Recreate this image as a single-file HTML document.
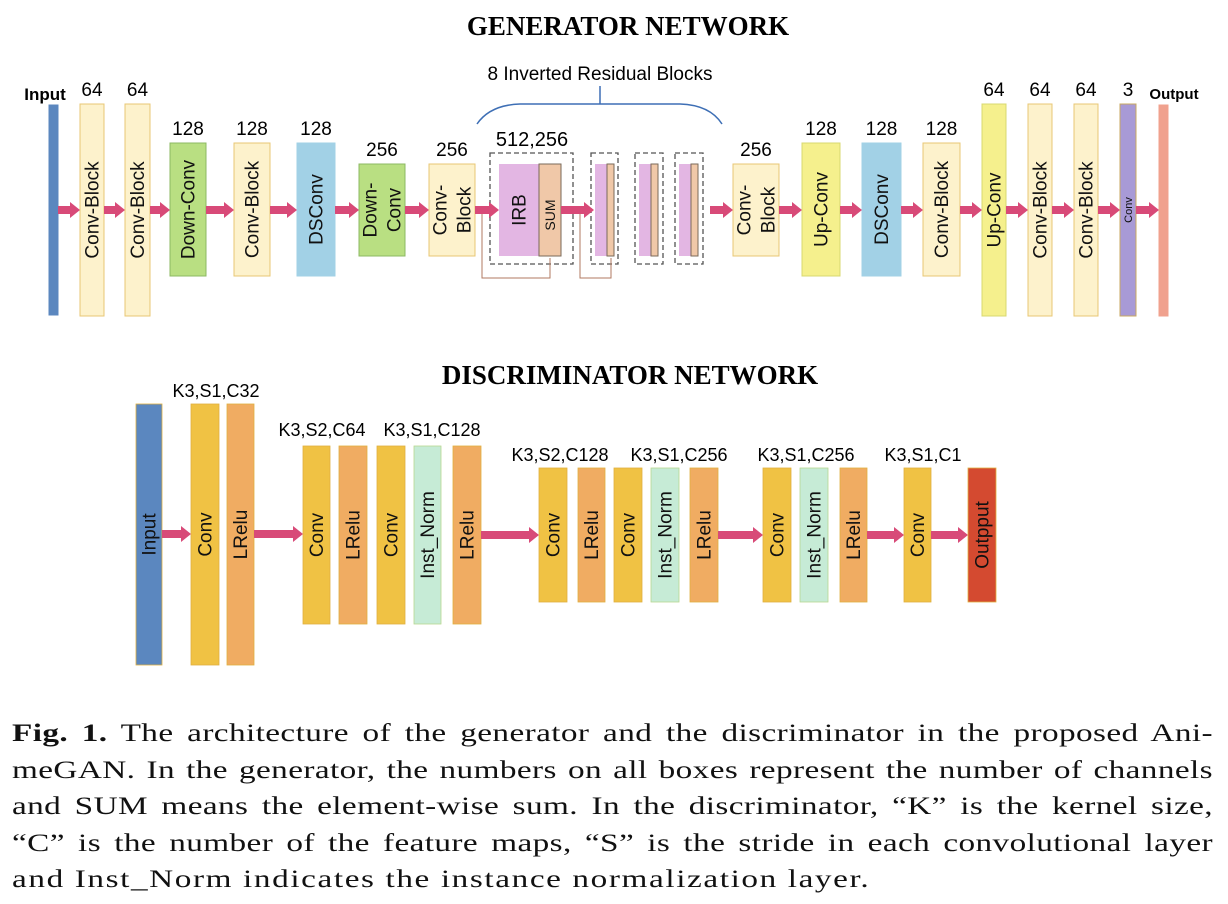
<!DOCTYPE html>
<html><head><meta charset="utf-8">
<style>
html,body{margin:0;padding:0;background:#fff;width:1228px;height:904px;overflow:hidden}
svg{position:absolute;left:0;top:0}
.cap{position:absolute;left:12px;width:903px;transform:scaleX(1.33);transform-origin:0 0;font-family:"Liberation Serif",serif;font-size:25px;letter-spacing:0.3px;color:#111;text-align:justify;text-align-last:justify;white-space:nowrap;line-height:30px}
.last{text-align-last:left;letter-spacing:1.2px}
</style></head>
<body>
<svg id="fig" width="1228" height="720" viewBox="0 0 1228 720" font-family="Liberation Sans, sans-serif">
<text x="628" y="35" text-anchor="middle" font-family="Liberation Serif, serif" font-weight="bold" font-size="27">GENERATOR NETWORK</text>
<text x="630" y="384" text-anchor="middle" font-family="Liberation Serif, serif" font-weight="bold" font-size="27">DISCRIMINATOR NETWORK</text>
<text x="45" y="100" text-anchor="middle" font-weight="bold" font-size="17">Input</text>
<text x="1174" y="99" text-anchor="middle" font-weight="bold" font-size="15">Output</text>
<text x="600" y="80" text-anchor="middle" font-size="19">8 Inverted Residual Blocks</text>
<path d="M477,124 Q490,105 520,104 L680,104 Q710,105 722,124 M600,104 L600,86" fill="none" stroke="#3e6fb5" stroke-width="1.5"/>
<text x="532" y="146" text-anchor="middle" font-size="20">512,256</text>
<g id="g"></g>
</svg>
<div class="cap" style="top:719px"><b>Fig. 1.</b> The architecture of the generator and the discriminator in the proposed Ani-</div>
<div class="cap" style="top:756px">meGAN. In the generator, the numbers on all boxes represent the number of channels</div>
<div class="cap" style="top:792px">and SUM means the element-wise sum. In the discriminator, “K” is the kernel size,</div>
<div class="cap" style="top:829px">“C” is the number of the feature maps, “S” is the stride in each convolutional layer</div>
<div class="cap last" style="top:865px">and Inst_Norm indicates the instance normalization layer.</div>
<script>
const NS="http://www.w3.org/2000/svg";
const g=document.getElementById('g');
function mk(tag,attrs){const e=document.createElementNS(NS,tag);for(const k in attrs)e.setAttribute(k,attrs[k]);g.appendChild(e);return e;}
const genBoxes=[
[49,58,105,315,"#5b87bf","#5b87bf","",""],
[80,104,104,316,"#fdf2cc","#e8c774","Conv-Block","64"],
[125,150,104,316,"#fdf2cc","#e8c774","Conv-Block","64"],
[170,206,143,276,"#b9df82","#8cb863","Down-Conv","128"],
[234,270,143,276,"#fdf2cc","#e8c774","Conv-Block","128"],
[297,335,143,276,"#a2d1e6","#a2d1e6","DSConv","128"],
[359,405,164,256,"#b9df82","#8cb863","Down-|Conv","256"],
[429,475,164,256,"#fdf2cc","#e8c774","Conv-|Block","256"],
[733,779,164,256,"#fdf2cc","#e8c774","Conv-|Block","256"],
[802,840,143,276,"#f5f08d","#d8d870","Up-Conv","128"],
[862,901,143,276,"#a2d1e6","#a2d1e6","DSConv","128"],
[923,960,143,276,"#fdf2cc","#e8c774","Conv-Block","128"],
[982,1006,104,316,"#f5f08d","#d8d870","Up-Conv","64"],
[1028,1052,104,316,"#fdf2cc","#e8c774","Conv-Block","64"],
[1074,1098,104,316,"#fdf2cc","#e8c774","Conv-Block","64"],
[1120,1136,104,316,"#a89ad6","#c8a860","Conv","3"],
[1159,1168,105,316,"#f0a18e","#f0a18e","",""]
];
const genArrows=[[58,80],[104,125],[150,170],[206,234],[270,297],[335,359],[405,429],[475,499],[561,594],[710,733],[779,802],[840,862],[901,923],[960,982],[1006,1028],[1052,1074],[1098,1120],[1136,1159]];
const discBoxes=[
[136,162,404,665,"#5b87bf","Input",""],
[191,219,404,665,"#f0c244","Conv","K3,S1,C32"],
[227,254,404,665,"#f0ac62","LRelu",""],
[303,330,446,624,"#f0c244","Conv","K3,S2,C64"],
[339,367,446,624,"#f0ac62","LRelu",""],
[377,405,446,624,"#f0c244","Conv",""],
[414,441,446,624,"#c6ebd6","Inst_Norm",""],
[453,481,446,624,"#f0ac62","LRelu",""],
[539,567,468,602,"#f0c244","Conv",""],
[578,605,468,602,"#f0ac62","LRelu",""],
[614,642,468,602,"#f0c244","Conv",""],
[651,679,468,602,"#c6ebd6","Inst_Norm",""],
[690,718,468,602,"#f0ac62","LRelu",""],
[763,791,468,602,"#f0c244","Conv",""],
[800,828,468,602,"#c6ebd6","Inst_Norm",""],
[840,867,468,602,"#f0ac62","LRelu",""],
[904,931,468,602,"#f0c244","Conv",""],
[968,996,468,602,"#d44a30","Outpput",""]
];
const discTopLabels=[["K3,S1,C32",216,397],["K3,S2,C64",322,436],["K3,S1,C128",432,436],["K3,S2,C128",560,461],["K3,S1,C256",679,461],["K3,S1,C256",806,461],["K3,S1,C1",923,461]];
const discArrows=[[162,191,534],[254,303,534],[481,539,535],[718,763,535],[867,904,535],[931,968,535]];

function arrow(x1,x2,y,name){
  const p=mk('path',{d:`M${x1},${y-4} L${x2-10},${y-4} L${x2-10},${y-8} L${x2},${y} L${x2-10},${y+8} L${x2-10},${y+4} L${x1},${y+4} Z`,fill:"#d84a78"});
  
  
}
function vlabel(cx,cy,txt,size,name,color){
  const parts=txt.split('|');
  parts.forEach((t,i)=>{
    const off=(i-(parts.length-1)/2)*24;
    const e=mk('text',{x:0,y:0,transform:`translate(${cx+off+size*0.35},${cy}) rotate(-90)`,'text-anchor':'middle','font-size':size,fill:color||"#111"});
    e.textContent=t;
    
    
  });
}
genBoxes.forEach((b,i)=>{
  const r=mk('rect',{x:b[0],y:b[2],width:b[1]-b[0],height:b[3]-b[2],fill:b[4],stroke:b[5],'stroke-width':1});
  
  
  const cx=(b[0]+b[1])/2;
  if(b[6]) vlabel(cx,(b[2]+b[3])/2,b[6],b[6]==="Conv"?11:19,'generator-block-label',"#111");
  if(b[7]){const t=mk('text',{x:cx,y:b[2]-8,'text-anchor':'middle','font-size':19});t.textContent=b[7];
    
    }
});
const dashed=[[490,573,153,264],[591,618,153,264],[635,663,153,264],[675,703,153,264]];
dashed.forEach((d,i)=>{
  const r=mk('rect',{x:d[0],y:d[2],width:d[1]-d[0],height:d[3]-d[2],fill:"none",stroke:"#555",'stroke-dasharray':"5,3",'stroke-width':1.3});
  
  
  const px=i===0?499:d[0]+4, sx=i===0?539:d[0]+16, ex=i===0?561:d[0]+23;
  const p=mk('rect',{x:px,y:164,width:sx-px,height:92,fill:"#e3b6e3"});
  
  
  const s=mk('rect',{x:sx,y:164,width:ex-sx,height:92,fill:"#f0c8a8",stroke:"#7a6a5a",'stroke-width':1});
  
  
});
vlabel(519,210,"IRB",19,'irb-label');
vlabel(550,215,"SUM",14,'sum-label');
const skip1=mk('path',{d:"M482,210 L482,278 L550,278 L550,258",fill:"none",stroke:"#b07a60",'stroke-width':1});


const skip2=mk('path',{d:"M580,210 L580,278 L611,278 L611,258",fill:"none",stroke:"#b07a60",'stroke-width':1});


genArrows.forEach(a=>arrow(a[0],a[1],210,'generator-arrow'));

discBoxes.forEach((b,i)=>{
  const r=mk('rect',{x:b[0],y:b[2],width:b[1]-b[0],height:b[3]-b[2],fill:b[4],stroke:b[4]==="#c6ebd6"?"#b8d890":"#e0b040",'stroke-width':0.8});
  
  
  vlabel((b[0]+b[1])/2,(b[2]+b[3])/2,b[5],19,'discriminator-block-label');
});
discTopLabels.forEach(l=>{
  const t=mk('text',{x:l[1],y:l[2],'text-anchor':'middle','font-size':18});
  t.textContent=l[0];
  
  
});
discArrows.forEach(a=>arrow(a[0],a[1],a[2],'discriminator-arrow'));
</script>
</body></html>
